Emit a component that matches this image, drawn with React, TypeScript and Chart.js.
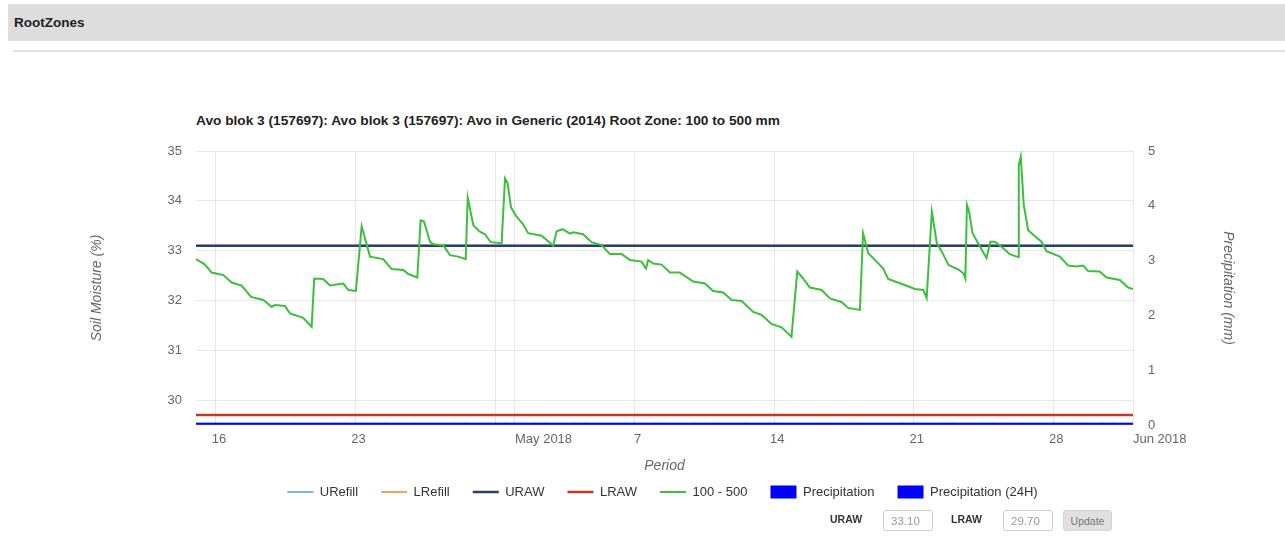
import React, { useEffect, useRef } from 'react';
import { Chart, registerables } from 'chart.js';

Chart.register(...registerables);

const FONT = "'Liberation Sans', Arial, Helvetica, sans-serif";

// x values are days since 15 Apr 2018 00:00 (0 = Apr 15, 47 = Jun 1)
const xTickDays = [1, 8, 15, 16, 22, 29, 36, 43, 47];
const xTickLabels = ['16', '23', '', '', '7', '14', '21', '28', ''];
const monthTickDays = [16, 47];
const monthTickLabels = ['May 2018', 'Jun 2018'];
const moistureTicks = [30, 31, 32, 33, 34, 35];
const precipTicks = [0, 1, 2, 3, 4, 5];

const thresholdDays = [0, 47];
const urefillValues = [33.1, 33.1];
const lrefillValues = [29.7, 29.7];
const urawValues = [33.1, 33.1];
const lrawValues = [29.7, 29.7];

const zoneDays = [
  0.0, 0.45, 0.79, 1.37, 1.79, 2.29, 2.76, 3.38, 3.8, 3.96, 4.46, 4.71, 5.38, 5.8, 5.93,
  6.38, 6.72, 7.39, 7.64, 8.02, 8.31, 8.73, 9.39, 9.81, 10.4, 10.65, 11.1, 11.27, 11.43,
  11.74, 11.9, 12.4, 12.74, 13.15, 13.53, 13.63, 13.91, 14.24, 14.49, 14.78, 15.33, 15.5,
  15.63, 15.8, 16.08, 16.41, 16.66, 17.34, 17.92, 18.09, 18.39, 18.76, 18.92, 19.42, 19.84,
  20.35, 20.76, 21.35, 21.77, 22.35, 22.57, 22.68, 22.93, 23.36, 23.77, 24.27, 24.94, 25.53,
  25.94, 26.44, 26.87, 27.37, 27.95, 28.37, 28.87, 29.37, 29.87, 30.16, 30.46, 30.79, 31.38,
  31.8, 32.38, 32.71, 33.3, 33.46, 33.72, 34.14, 34.47, 34.72, 35.48, 36.06, 36.48, 36.65,
  36.91, 37.16, 37.41, 37.75, 38.25, 38.5, 38.59, 38.67, 38.78, 38.95, 39.23, 39.65, 39.85,
  40.07, 40.49, 40.82, 41.24, 41.27, 41.37, 41.52, 41.74, 42.08, 42.41, 42.66, 43.33, 43.75,
  44.17, 44.5, 44.75, 45.33, 45.67, 46.34, 46.76, 47.0,
];
const zoneValues = [
  32.83, 32.72, 32.56, 32.51, 32.36, 32.3, 32.07, 32.01, 31.87, 31.91, 31.89, 31.74, 31.65, 31.47, 32.44,
  32.43, 32.3, 32.34, 32.21, 32.19, 33.49, 32.88, 32.83, 32.63, 32.61, 32.53, 32.46, 33.61, 33.59,
  33.18, 33.13, 33.11, 32.91, 32.88, 32.83, 34.06, 33.51, 33.38, 33.33, 33.17, 33.15, 34.45,
  34.35, 33.87, 33.68, 33.53, 33.35, 33.3, 33.1, 33.39, 33.43, 33.34, 33.37, 33.33, 33.17,
  33.11, 32.93, 32.93, 32.81, 32.78, 32.64, 32.81, 32.74, 32.72, 32.56, 32.56, 32.38, 32.34,
  32.19, 32.16, 32.01, 31.99, 31.77, 31.71, 31.53, 31.46, 31.27, 32.58, 32.44, 32.26, 32.21,
  32.04, 31.97, 31.85, 31.81, 33.35, 32.95, 32.78, 32.64, 32.43, 32.32, 32.23, 32.21, 32.05,
  33.78, 33.15, 32.98, 32.71, 32.62, 32.54, 32.44, 33.92, 33.78, 33.35, 33.15, 32.85, 33.18,
  33.18, 33.05, 32.93, 32.87, 34.72, 34.89, 33.92, 33.41, 33.29, 33.18, 32.99, 32.88, 32.7,
  32.68, 32.7, 32.59, 32.58, 32.46, 32.41, 32.26, 32.23,
];

const precipDays = [
  0.5, 1.5, 2.5, 3.5, 4.5, 5.5, 6.5, 7.5, 8.5, 9.5, 10.5, 11.5, 12.5, 13.5, 14.5, 15.5,
  16.5, 17.5, 18.5, 19.5, 20.5, 21.5, 22.5, 23.5, 24.5, 25.5, 26.5, 27.5, 28.5, 29.5, 30.5,
  31.5, 32.5, 33.5, 34.5, 35.5, 36.5, 37.5, 38.5, 39.5, 40.5, 41.5, 42.5, 43.5, 44.5, 45.5, 46.5,
];
const precipValues = [
  0, 0, 0, 0, 0, 0, 0, 0, 0, 0, 0, 0, 0, 0, 0, 0, 0, 0, 0, 0, 0, 0, 0, 0,
  0, 0, 0, 0, 0, 0, 0, 0, 0, 0, 0, 0, 0, 0, 0, 0, 0, 0, 0, 0, 0, 0, 0,
];
const precip24Values = [
  0, 0, 0, 0, 0, 0, 0, 0, 0, 0, 0, 0, 0, 0, 0, 0, 0, 0, 0, 0, 0, 0, 0, 0,
  0, 0, 0, 0, 0, 0, 0, 0, 0, 0, 0, 0, 0, 0, 0, 0, 0, 0, 0, 0, 0, 0, 0,
];

const pts = (xs: number[], ys: number[]) => xs.map((x, i) => ({ x, y: ys[i] }));

// Month labels sit with their left edge on the tick (as in the original axis)
const monthLabelPlugin = {
  id: 'monthLabels',
  afterDraw(chart: any) {
    const xs = chart.scales.x;
    const ctx = chart.ctx;
    ctx.save();
    ctx.font = `13px ${FONT}`;
    ctx.fillStyle = '#666';
    ctx.textAlign = 'left';
    ctx.textBaseline = 'middle';
    monthTickDays.forEach((d, i) => {
      ctx.fillText(monthTickLabels[i], xs.getPixelForValue(d), xs.top + 7 + 7.8);
    });
    ctx.restore();
  },
};

export default function App() {
  const ref = useRef<HTMLCanvasElement>(null);

  useEffect(() => {
    const tickFont = { family: FONT, size: 13 };
    const titleFont = { family: FONT, size: 14, style: 'italic' as const, lineHeight: 1.2 };
    const chart = new Chart(ref.current as HTMLCanvasElement, {
      type: 'line',
      data: {
        datasets: [
          { type: 'line', label: 'URefill', data: pts(thresholdDays, urefillValues), borderColor: '#7cb5ec', backgroundColor: '#7cb5ec', borderWidth: 2, pointRadius: 0, pointStyle: 'line', yAxisID: 'y', xAxisID: 'x', order: 4 },
          { type: 'line', label: 'LRefill', data: pts(thresholdDays, lrefillValues), borderColor: '#f7a35c', backgroundColor: '#f7a35c', borderWidth: 2, pointRadius: 0, pointStyle: 'line', yAxisID: 'y', xAxisID: 'x', order: 3 },
          { type: 'line', label: 'URAW', data: pts(thresholdDays, urawValues), borderColor: '#2b3f63', backgroundColor: '#2b3f63', borderWidth: 2.5, pointRadius: 0, pointStyle: 'line', yAxisID: 'y', xAxisID: 'x', order: 2 },
          { type: 'line', label: 'LRAW', data: pts(thresholdDays, lrawValues), borderColor: '#c0392b', backgroundColor: '#c0392b', borderWidth: 2.5, pointRadius: 0, pointStyle: 'line', yAxisID: 'y', xAxisID: 'x', order: 1 },
          { type: 'line', label: '100 - 500', data: pts(zoneDays, zoneValues), borderColor: '#3cbf3c', backgroundColor: '#3cbf3c', borderWidth: 2, pointRadius: 0, pointStyle: 'line', tension: 0, yAxisID: 'y', xAxisID: 'x', order: 0 },
          { type: 'bar', label: 'Precipitation', data: pts(precipDays, precipValues), backgroundColor: '#0000ff', borderColor: '#0000ff', borderWidth: 0, minBarLength: 2, barPercentage: 1, categoryPercentage: 1, pointStyle: 'rect', yAxisID: 'y1', xAxisID: 'x', order: 5 },
          { type: 'bar', label: 'Precipitation (24H)', data: pts(precipDays, precip24Values), backgroundColor: '#0000ff', borderColor: '#0000ff', borderWidth: 0, minBarLength: 2, barPercentage: 1, categoryPercentage: 1, pointStyle: 'rect', yAxisID: 'y1', xAxisID: 'x', order: 6 },
        ] as any,
      },
      options: {
        responsive: false,
        animation: false,
        devicePixelRatio: 1,
        layout: { padding: { top: 16, left: 88.6, right: 48.6, bottom: 6.5 } },
        plugins: {
          tooltip: { enabled: false },
          legend: {
            position: 'bottom',
            labels: {
              usePointStyle: true,
              pointStyleWidth: 26,
              boxHeight: 13,
              padding: 23,
              color: '#333',
              font: { family: FONT, size: 13 },
              sort: (a: any, b: any) => a.datasetIndex - b.datasetIndex,
            },
          },
        },
        scales: {
          x: {
            type: 'linear',
            position: 'bottom',
            min: 0,
            max: 47,
            offset: false,
            afterBuildTicks: (s: any) => { s.ticks = xTickDays.map((v) => ({ value: v })); },
            afterFit: (s: any) => { s.height = 37.5; },
            ticks: {
              autoSkip: false,
              maxRotation: 0,
              padding: 7,
              labelOffset: 3,
              color: '#666',
              font: tickFont,
              callback: (v: any) => { const i = xTickDays.indexOf(Number(v)); return i >= 0 ? xTickLabels[i] : ''; },
            },
            grid: { color: '#e6e6e6', drawTicks: false, offset: false },
            border: { display: false },
            title: { display: true, text: 'Period', color: '#666', font: { ...titleFont, lineHeight: 1 }, padding: { top: 0, bottom: -11 } },
          },
          y: {
            type: 'linear',
            position: 'left',
            min: 29.5,
            max: 35,
            afterBuildTicks: (s: any) => { s.ticks = moistureTicks.map((v) => ({ value: v })); },
            afterFit: (s: any) => { s.width = 107.4; },
            ticks: { padding: 6, color: '#666', font: tickFont },
            grid: { color: '#e6e6e6', drawTicks: true, tickLength: 8, tickColor: 'rgba(0,0,0,0)' },
            border: { display: false },
            title: { display: true, text: 'Soil Moisture (%)', color: '#666', font: titleFont, padding: { top: 0, bottom: 0 } },
          },
          y1: {
            type: 'linear',
            position: 'right',
            min: 0,
            max: 5,
            afterBuildTicks: (s: any) => { s.ticks = precipTicks.map((v) => ({ value: v })); },
            afterFit: (s: any) => { s.width = 103.4; },
            ticks: { padding: 6, color: '#666', font: tickFont },
            grid: { display: true, drawOnChartArea: false, color: 'rgba(0,0,0,0)', drawTicks: true, tickLength: 9, tickColor: 'rgba(0,0,0,0)' },
            border: { display: false },
            title: { display: true, text: 'Precipitation (mm)', color: '#666', font: titleFont, padding: { top: 0, bottom: 0 } },
          },
        },
      } as any,
      plugins: [monthLabelPlugin],
    });
    return () => chart.destroy();
  }, []);

  const labelStyle: React.CSSProperties = {
    position: 'absolute', top: 513, fontFamily: FONT, fontWeight: 'bold', fontSize: 10.5, color: '#333',
  };
  const inputStyle: React.CSSProperties = {
    position: 'absolute', top: 510, width: 50, height: 21, boxSizing: 'border-box', border: '1px solid #ccc',
    borderRadius: 3, padding: '0 0 0 7px', fontFamily: FONT, fontSize: 11.5, color: '#999', background: '#fff', margin: 0,
  };

  return (
    <div>
      <div style={{ position: 'absolute', left: 8, top: 4, width: 1277, height: 37, background: '#dddddd' }}>
        <div style={{ position: 'absolute', left: 6, top: 11, fontFamily: FONT, fontWeight: 'bold', fontSize: 13.5, color: '#222', whiteSpace: 'nowrap' }}>RootZones</div>
      </div>
      <div style={{ position: 'absolute', left: 13, top: 50, width: 1272, height: 2, background: '#e3e3e3' }} />
      <div style={{ position: 'absolute', left: 196, top: 113, fontFamily: FONT, fontWeight: 'bold', fontSize: 13.7, color: '#222', whiteSpace: 'nowrap' }}>
        Avo blok 3 (157697): Avo blok 3 (157697): Avo in Generic (2014) Root Zone: 100 to 500 mm
      </div>
      <canvas ref={ref} width={1285} height={380} style={{ position: 'absolute', left: 0, top: 135, width: 1285, height: 380 }} />
      <div style={{ ...labelStyle, left: 830 }}>URAW</div>
      <input readOnly defaultValue="33.10" style={{ ...inputStyle, left: 883 }} />
      <div style={{ ...labelStyle, left: 951 }}>LRAW</div>
      <input readOnly defaultValue="29.70" style={{ ...inputStyle, left: 1003 }} />
      <button style={{ position: 'absolute', left: 1063, top: 510, width: 49, height: 21, background: '#e0e0e0', border: '1px solid #d4d4d4', borderRadius: 3, fontFamily: FONT, fontSize: 10.5, color: '#777', padding: 0, margin: 0 }}>Update</button>
    </div>
  );
}
